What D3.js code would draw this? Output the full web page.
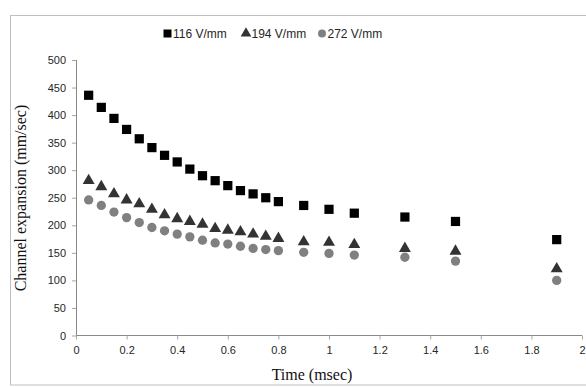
<!DOCTYPE html>
<html><head><meta charset="utf-8">
<script src="https://cdn.jsdelivr.net/npm/d3@7"></script>
<style>body{margin:0;background:#fff}svg{display:block}</style>
</head><body>
<svg id="c" width="586" height="387"></svg>
<script>
const times = [0.05,0.1,0.15,0.2,0.25,0.3,0.35,0.4,0.45,0.5,0.55,0.6,0.65,0.7,0.75,0.8,0.9,1.0,1.1,1.3,1.5,1.9];
const s116 = [436,414,394,374,357,341,327,315,302,290,281,272,263,257,250,243,236,229,222,215,207,174];
const s194 = [281,270,257,246,239,229,219,212,207,202,194,191,188,184,180,176,170,169,165,158,153,121];
const s272 = [246,236,224,214,205,196,190,184,179,173,168,166,162,158,156,154,151,149,146,142,135,100];
const seriesNames = ["116 V/mm","194 V/mm","272 V/mm"];
const xTicks = [0,0.2,0.4,0.6,0.8,1,1.2,1.4,1.6,1.8,2];
const yTicks = [0,50,100,150,200,250,300,350,400,450,500];

const svg = d3.select("#c");
const x = d3.scaleLinear().domain([0,2]).range([76,582]);
const y = d3.scaleLinear().domain([0,500]).range([335.5,60]);

svg.append("rect").attr("x",10.5).attr("y",15.5).attr("width",600).attr("height",369.5)
  .attr("fill","none").attr("stroke","#bfbfbf");

const axisColor = "#898989";
const gy = svg.append("g").attr("transform","translate(76,0)")
  .call(d3.axisLeft(y).tickValues(yTicks).tickSize(4).tickPadding(6).tickFormat(d3.format("d")));
const gx = svg.append("g").attr("transform","translate(0,335.5)")
  .call(d3.axisBottom(x).tickValues(xTicks).tickSize(4).tickPadding(7).tickFormat(d=>String(d)));
[gx,gy].forEach(g=>{
  g.select(".domain").attr("stroke",axisColor);
  g.selectAll(".tick line").attr("stroke","#a6a6a6");
  g.selectAll(".tick text").attr("fill","#262626").style("font-family","Liberation Sans, Arial, sans-serif").style("font-size","11px");
});
gx.select(".domain").attr("d","M76,0H582");
gy.select(".domain").attr("d","M0.5,60V335.5");

const sq = d3.symbol().type(d3.symbolSquare).size(85);
const tri = d3.symbol().type(d3.symbolTriangle).size(62);
const cir = d3.symbol().type(d3.symbolCircle).size(68);

const series = [
  {vals:s116, sym:sq, color:"#000000"},
  {vals:s194, sym:tri, color:"#333333"},
  {vals:s272, sym:cir, color:"#808080"}
];
[2,1,0].forEach(i=>{
  const s = series[i];
  svg.append("g").selectAll("path").data(times.map((t,j)=>[t,s.vals[j]])).join("path")
    .attr("transform",d=>`translate(${x(d[0])},${y(d[1])})`)
    .attr("d",s.sym()).attr("fill",s.color);
});

// legend
const legX = [167.5,246,322];
const legSyms = [d3.symbol().type(d3.symbolSquare).size(64), d3.symbol().type(d3.symbolTriangle).size(50), d3.symbol().type(d3.symbolCircle).size(50)];
series.forEach((s,i)=>{
  svg.append("path").attr("transform",`translate(${legX[i]},33.5)`)
    .attr("d",legSyms[i]()).attr("fill",s.color);
  svg.append("text").attr("x",legX[i]+5.5).attr("y",37.5).text(seriesNames[i])
    .attr("fill","#262626").style("font-family","Liberation Sans, Arial, sans-serif").style("font-size","12px");
});

svg.append("text").attr("x",312).attr("y",380).attr("text-anchor","middle").text("Time (msec)")
  .style("font-family","Liberation Serif, Times New Roman, serif").style("font-size","16px").attr("fill","#111");
svg.append("text").attr("transform","translate(26,198) rotate(-90)").attr("text-anchor","middle")
  .text("Channel expansion (mm/sec)")
  .style("font-family","Liberation Serif, Times New Roman, serif").style("font-size","16px").attr("fill","#111");
</script>
</body></html>
